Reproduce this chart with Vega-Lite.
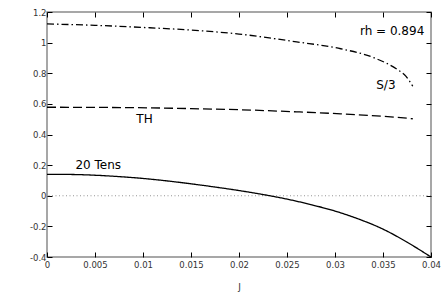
{
  "$schema": "https://vega.github.io/schema/vega-lite/v6.json",
  "width": 384,
  "height": 245,
  "autosize": {"type": "none"},
  "padding": {"left": 47, "top": 12, "right": 14, "bottom": 38},
  "background": "white",
  "config": {
    "view": {"stroke": "#8a8a8a", "strokeWidth": 1.5},
    "axis": {
      "domain": false,
      "grid": false,
      "tickColor": "#000000",
      "tickSize": -5,
      "tickWidth": 1,
      "labelFont": "DejaVu Sans",
      "labelFontSize": 8.5,
      "labelColor": "#333333",
      "titleFont": "DejaVu Sans",
      "titleFontSize": 9,
      "titleFontWeight": "normal",
      "titleColor": "#333333"
    }
  },
  "datasets": {
    "curves": [
      {"J": 0, "v": 1.122, "series": "S/3"},
      {"J": 0.005, "v": 1.113, "series": "S/3"},
      {"J": 0.0107, "v": 1.097, "series": "S/3"},
      {"J": 0.015, "v": 1.082, "series": "S/3"},
      {"J": 0.02, "v": 1.056, "series": "S/3"},
      {"J": 0.026, "v": 1.005, "series": "S/3"},
      {"J": 0.0306, "v": 0.96, "series": "S/3"},
      {"J": 0.0341, "v": 0.9, "series": "S/3"},
      {"J": 0.0365, "v": 0.824, "series": "S/3"},
      {"J": 0.0374, "v": 0.78, "series": "S/3"},
      {"J": 0.0381, "v": 0.715, "series": "S/3"},
      {"J": 0, "v": 0.578, "series": "TH"},
      {"J": 0.005, "v": 0.577, "series": "TH"},
      {"J": 0.0107, "v": 0.574, "series": "TH"},
      {"J": 0.015, "v": 0.569, "series": "TH"},
      {"J": 0.02, "v": 0.562, "series": "TH"},
      {"J": 0.026, "v": 0.548, "series": "TH"},
      {"J": 0.0306, "v": 0.535, "series": "TH"},
      {"J": 0.0358, "v": 0.515, "series": "TH"},
      {"J": 0.0381, "v": 0.503, "series": "TH"},
      {"J": 0, "v": 0.14, "series": "20 Tens"},
      {"J": 0.0025, "v": 0.139, "series": "20 Tens"},
      {"J": 0.005, "v": 0.134, "series": "20 Tens"},
      {"J": 0.0075, "v": 0.125, "series": "20 Tens"},
      {"J": 0.01, "v": 0.113, "series": "20 Tens"},
      {"J": 0.0125, "v": 0.097, "series": "20 Tens"},
      {"J": 0.015, "v": 0.078, "series": "20 Tens"},
      {"J": 0.0175, "v": 0.057, "series": "20 Tens"},
      {"J": 0.02, "v": 0.034, "series": "20 Tens"},
      {"J": 0.0225, "v": 0.008, "series": "20 Tens"},
      {"J": 0.025, "v": -0.022, "series": "20 Tens"},
      {"J": 0.0275, "v": -0.058, "series": "20 Tens"},
      {"J": 0.03, "v": -0.1, "series": "20 Tens"},
      {"J": 0.0325, "v": -0.153, "series": "20 Tens"},
      {"J": 0.035, "v": -0.218, "series": "20 Tens"},
      {"J": 0.0375, "v": -0.303, "series": "20 Tens"},
      {"J": 0.04, "v": -0.4, "series": "20 Tens"}
    ],
    "labels": [
      {"J": 0.0353, "v": 0.726, "text": "S/3"},
      {"J": 0.01016, "v": 0.504, "text": "TH"},
      {"J": 0.00534, "v": 0.203, "text": "20 Tens"}
    ],
    "rh": [
      {"J": 0.0393, "v": 1.079, "text": "rh = 0.894"}
    ],
    "zero": [{"v": 0}]
  },
  "resolve": {"axis": {"x": "independent", "y": "independent"}},
  "layer": [
    {
      "data": {"name": "zero"},
      "mark": {"type": "rule", "color": "#7a7a7a", "strokeWidth": 0.8, "strokeDash": [1, 2.5]},
      "encoding": {
        "y": {"field": "v", "type": "quantitative", "axis": null}
      }
    },
    {
      "data": {"name": "curves"},
      "mark": {"type": "line", "strokeWidth": 1.3, "color": "#000000", "interpolate": "monotone"},
      "encoding": {
        "x": {
          "field": "J", "type": "quantitative",
          "scale": {"domain": [0, 0.04], "nice": false, "zero": false},
          "axis": {"orient": "bottom", "title": "J", "values": [0, 0.005, 0.01, 0.015, 0.02, 0.025, 0.03, 0.035, 0.04], "labelExpr": "format(datum.value, '~g')", "labelPadding": 8, "titleY": 29, "titleBaseline": "middle", "labelFlush": false}
        },
        "y": {
          "field": "v", "type": "quantitative",
          "scale": {"domain": [-0.4, 1.2], "nice": false, "zero": false},
          "axis": {"orient": "left", "title": null, "values": [-0.4, -0.2, 0, 0.2, 0.4, 0.6, 0.8, 1, 1.2], "labelExpr": "replace(format(datum.value, '~g'), '\u2212', '-')", "labelPadding": 6, "labelFlush": false}
        },
        "detail": {"field": "series", "type": "nominal"},
        "strokeDash": {
          "field": "series", "type": "nominal",
          "scale": {"domain": ["S/3", "TH", "20 Tens"], "range": [[7, 3, 1.5, 3], [9, 4], [1, 0]]},
          "legend": null
        }
      }
    },
    {
      "data": {"name": "labels"},
      "mark": {"type": "text", "font": "DejaVu Sans", "fontSize": 12, "color": "#000000", "baseline": "middle", "align": "center"},
      "encoding": {
        "x": {"field": "J", "type": "quantitative", "axis": {"orient": "top", "labels": false, "title": null, "values": [0, 0.005, 0.01, 0.015, 0.02, 0.025, 0.03, 0.035, 0.04]}},
        "y": {"field": "v", "type": "quantitative", "axis": {"orient": "right", "labels": false, "title": null, "values": [-0.4, -0.2, 0, 0.2, 0.4, 0.6, 0.8, 1, 1.2]}},
        "text": {"field": "text", "type": "nominal"}
      }
    },
    {
      "data": {"name": "rh"},
      "mark": {"type": "text", "font": "DejaVu Sans", "fontSize": 12, "color": "#000000", "baseline": "middle", "align": "right"},
      "encoding": {
        "x": {"field": "J", "type": "quantitative", "axis": null},
        "y": {"field": "v", "type": "quantitative", "axis": null},
        "text": {"field": "text", "type": "nominal"}
      }
    }
  ]
}
